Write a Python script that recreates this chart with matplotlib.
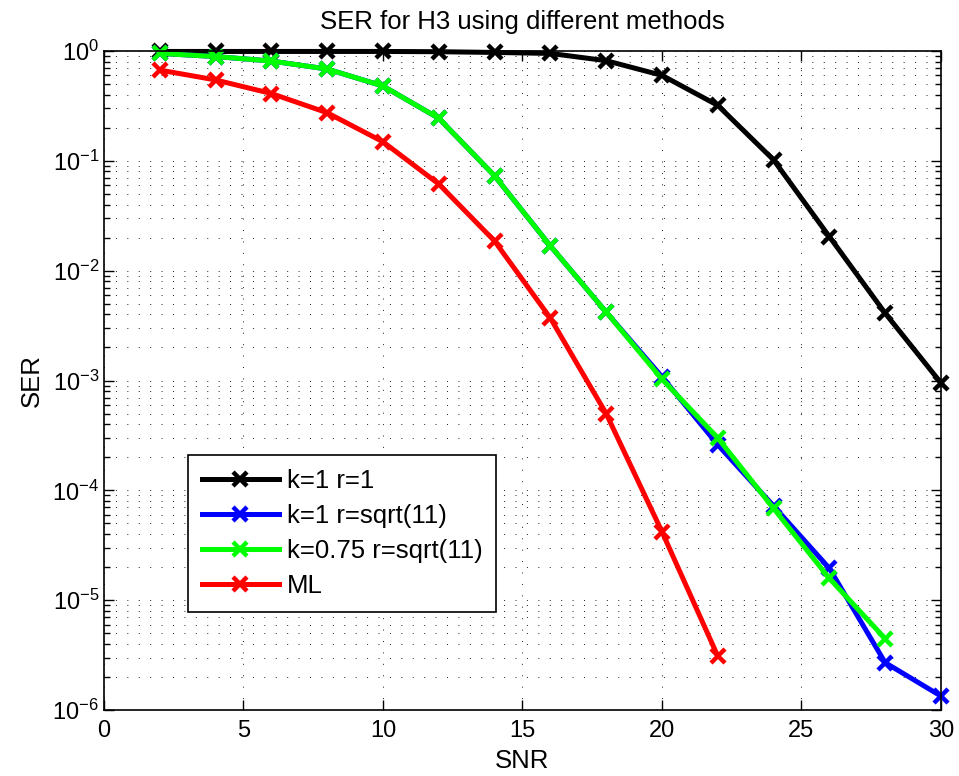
import matplotlib
matplotlib.use("Agg")
import matplotlib.pyplot as plt
from matplotlib.ticker import LogLocator, MultipleLocator, NullFormatter

plt.rcParams['font.family'] = ['Liberation Sans', 'DejaVu Sans']
plt.rcParams['mathtext.fontset'] = 'custom'
plt.rcParams['mathtext.rm'] = 'Liberation Sans'
plt.rcParams['mathtext.it'] = 'Liberation Sans'
plt.rcParams['mathtext.bf'] = 'Liberation Sans'

title = "SER for H3 using different methods"
xlabel = "SNR"
ylabel = "SER"

snr_black = [2, 4, 6, 8, 10, 12, 14, 16, 18, 20, 22, 24, 26, 28, 30]
ser_black = [0.99, 0.99, 0.99, 0.99, 0.99, 0.985, 0.97, 0.95, 0.816, 0.60, 0.32,
             0.102, 0.0204, 0.0041, 0.00095]

snr_blue = [2, 4, 6, 8, 10, 12, 14, 16, 18, 20, 22, 24, 26, 28, 30]
ser_blue = [0.95, 0.89, 0.81, 0.685, 0.48, 0.244, 0.073, 0.0168, 0.0042, 0.00108,
            2.6e-4, 7.2e-5, 1.95e-5, 2.7e-6, 1.34e-6]

snr_green = [2, 4, 6, 8, 10, 12, 14, 16, 18, 20, 22, 24, 26, 28]
ser_green = [0.95, 0.89, 0.81, 0.685, 0.48, 0.244, 0.073, 0.0168, 0.0042, 0.00103,
             3.0e-4, 6.85e-5, 1.58e-5, 4.47e-6]

snr_red = [2, 4, 6, 8, 10, 12, 14, 16, 18, 20, 22]
ser_red = [0.67, 0.545, 0.41, 0.274, 0.149, 0.0615, 0.0186, 0.0037, 5.0e-4,
           4.2e-5, 3.1e-6]

labels = ["k=1 r=1", "k=1 r=sqrt(11)", "k=0.75 r=sqrt(11)", "ML"]
colors = ["#000000", "#0000ff", "#00ff00", "#ff0000"]

fs = 17
fs_big = 18.5

fig = plt.figure(figsize=(9.59, 7.76), dpi=100)
ax = fig.add_axes([0.1084, 0.085, 0.8728, 0.8493])

style = dict(linewidth=3.6, marker='x', markersize=10, markeredgewidth=3.2, clip_on=False)
series = [(snr_black, ser_black), (snr_blue, ser_blue), (snr_green, ser_green), (snr_red, ser_red)]
for (xs, ys), lab, c in zip(series, labels, colors):
    ax.semilogy(xs, ys, color=c, label=lab, **style)

ax.set_xlim(0, 30)
ax.set_ylim(1e-6, 1)
ax.xaxis.set_major_locator(MultipleLocator(5))
ax.yaxis.set_major_locator(LogLocator(base=10, numticks=10))
ax.yaxis.set_minor_locator(LogLocator(base=10, subs=range(2, 10), numticks=100))
ax.yaxis.set_minor_formatter(NullFormatter())

gl = dict(color='black', linewidth=0.6, linestyle=(0, (1.2, 12.5)))
ax.grid(True, which='major', axis='both', **gl)
ax.grid(True, which='minor', axis='y', **gl)
ax.set_axisbelow(True)

ax.tick_params(which='both', direction='in', top=True, right=True, labelsize=fs, width=1)
ax.tick_params(which='major', length=7)
ax.tick_params(which='minor', length=4)
ax.tick_params(axis='x', pad=7)
for s in ax.spines.values():
    s.set_linewidth(1.2)

ax.set_title(title, fontsize=fs_big, pad=16)
ax.set_xlabel(xlabel, fontsize=fs_big, labelpad=5)
ax.set_ylabel(ylabel, fontsize=fs_big, labelpad=6)

leg = ax.legend(loc='lower left', bbox_to_anchor=(0.1, 0.149), fontsize=fs_big,
                fancybox=False, framealpha=1, edgecolor='black', handlelength=3.0,
                borderpad=0.55, labelspacing=0.42, handletextpad=0.3, borderaxespad=0)
leg.get_frame().set_linewidth(1.2)

fig.savefig("out.png", dpi=100)
